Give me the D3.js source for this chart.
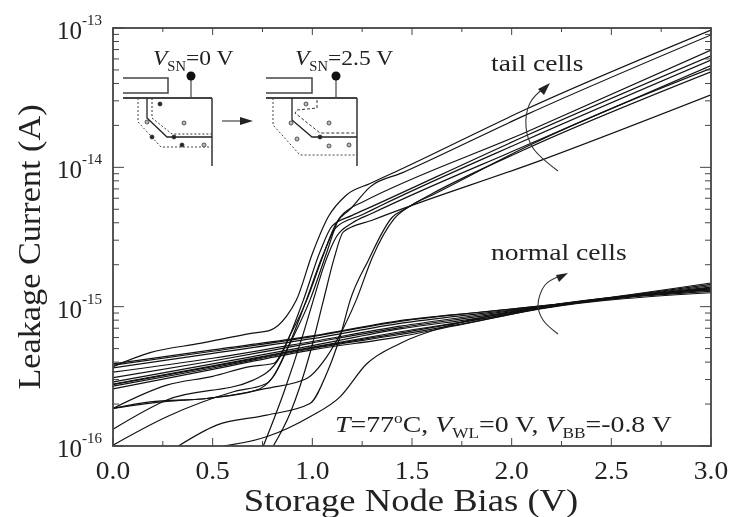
<!DOCTYPE html>
<html><head><meta charset="utf-8">
<script src="https://cdn.jsdelivr.net/npm/d3@7"></script>
<style>
html,body{margin:0;padding:0;background:#fff}
svg{display:block;filter:blur(0.5px)}
text{font-family:"Liberation Serif","Times New Roman",serif;fill:#222}
</style></head><body>
<svg id="c" width="729" height="517"></svg>
<script>
// log10(current) values
const normalV = [0, 0.5, 1.0, 1.44, 1.84, 2.15, 3.0];
const normalLog = [
 [-15.41,-15.31,-15.21,-15.10,-15.04,-14.995,-14.83],
 [-15.42,-15.32,-15.215,-15.105,-15.04,-14.995,-14.84],
 [-15.44,-15.335,-15.23,-15.12,-15.05,-15.0,-14.85],
 [-15.47,-15.37,-15.25,-15.14,-15.06,-15.0,-14.86],
 [-15.51,-15.39,-15.26,-15.15,-15.07,-15.005,-14.865],
 [-15.54,-15.41,-15.28,-15.16,-15.08,-15.005,-14.87],
 [-15.555,-15.425,-15.29,-15.18,-15.09,-15.01,-14.875],
 [-15.56,-15.43,-15.295,-15.19,-15.09,-15.01,-14.88],
 [-15.57,-15.44,-15.30,-15.20,-15.10,-15.01,-14.89],
 [-15.59,-15.45,-15.31,-15.215,-15.10,-15.015,-14.90]
];
const tailCurves = [
 [[0,-15.43],[0.186,-15.33],[0.436,-15.264],[0.70,-15.19],[0.79,-15.168],[0.87,-15.07],[0.92,-14.953],[1.0,-14.62],[1.08,-14.355],[1.17,-14.2],[1.29,-14.116],[1.45,-14.01],[2.077,-13.58],[3,-13.015]],
 [[0,-15.73],[0.27,-15.563],[0.5,-15.5],[0.687,-15.43],[0.804,-15.408],[0.89,-15.2],[0.972,-14.953],[1.05,-14.65],[1.12,-14.4],[1.19,-14.30],[1.29,-14.14],[1.45,-14.04],[2.077,-13.62],[3,-13.05]],
 [[0,-15.73],[0.186,-15.683],[0.47,-15.659],[0.72,-15.599],[0.804,-15.503],[0.888,-15.264],[0.988,-14.953],[1.07,-14.62],[1.13,-14.38],[1.19,-14.295],[1.25,-14.25],[2.077,-13.745],[3,-13.158]],
 [[0,-15.88],[0.27,-15.67],[0.704,-15.527],[0.838,-15.36],[0.955,-14.953],[1.04,-14.6],[1.10,-14.42],[1.2,-14.345],[1.3,-14.28],[2.077,-13.77],[3,-13.2]],
 [[0,-15.994],[0.27,-15.79],[0.604,-15.611],[0.77,-15.551],[0.871,-15.312],[0.97,-14.953],[1.05,-14.64],[1.12,-14.43],[1.25,-14.34],[1.35,-14.27],[2.077,-13.80],[3,-13.23]],
 [[0.328,-16],[0.52,-15.85],[0.77,-15.779],[0.988,-15.695],[1.072,-15.48],[1.139,-15.216],[1.19,-14.953],[1.28,-14.67],[1.40,-14.36],[1.47,-14.295],[1.6,-14.19],[2.077,-13.865],[3,-13.315]],
 [[0,-15.73],[0.27,-15.68],[0.47,-15.659],[0.77,-15.587],[0.972,-15.515],[1.072,-15.36],[1.139,-15.2],[1.22,-14.953],[1.3,-14.65],[1.41,-14.37],[1.5,-14.27],[1.6,-14.2],[2.077,-13.85],[3,-13.29]],
 [[0.754,-16],[0.855,-15.623],[0.955,-15.192],[1.005,-14.953],[1.06,-14.7],[1.12,-14.5],[1.2,-14.40],[1.3,-14.33],[2.077,-13.84],[3,-13.27]],
 [[0.804,-16],[0.888,-15.767],[0.988,-15.336],[1.056,-14.953],[1.11,-14.65],[1.156,-14.463],[1.3,-14.38],[2.15,-13.948],[3,-13.48]],
 [[0.554,-16],[0.77,-15.934],[0.988,-15.79],[1.139,-15.647],[1.273,-15.41],[1.44,-15.264],[1.7,-15.13],[2.15,-15.0],[3,-14.88]]
];
const xTicks = [0,0.5,1,1.5,2,2.5,3];
const xMinor = [0.25,0.75,1.25,1.75,2.25,2.75];
const yDecades = [-16,-15,-14,-13];

const svg = d3.select("#c");
const x = d3.scaleLinear().domain([0,3]).range([113,711]);
const y = d3.scaleLog().domain([1e-16,1e-13]).range([446,28]);
const line = d3.line().x(d=>x(d[0])).y(d=>y(Math.pow(10,d[1]))).curve(d3.curveMonotoneX);

svg.append("defs").append("clipPath").attr("id","pl").append("rect")
  .attr("x",113).attr("y",28).attr("width",598).attr("height",418);
const curves = svg.append("g").attr("clip-path","url(#pl)").attr("fill","none").attr("stroke","#111").attr("stroke-width",1.2);
normalLog.forEach(s=>curves.append("path").attr("d",line(s.map((v,i)=>[normalV[i],v]))));
tailCurves.forEach(s=>curves.append("path").attr("d",line(s)));

// frame + ticks
const axes = svg.append("g").attr("stroke","#444").attr("fill","none");
axes.append("rect").attr("x",113).attr("y",28).attr("width",598).attr("height",418).attr("stroke-width",1.8);
xTicks.forEach(v=>{
  axes.append("line").attr("x1",x(v)).attr("x2",x(v)).attr("y1",446).attr("y2",438);
  axes.append("line").attr("x1",x(v)).attr("x2",x(v)).attr("y1",28).attr("y2",35);
});
xMinor.forEach(v=>{
  axes.append("line").attr("x1",x(v)).attr("x2",x(v)).attr("y1",446).attr("y2",441);
  axes.append("line").attr("x1",x(v)).attr("x2",x(v)).attr("y1",28).attr("y2",32);
});
y.ticks().forEach(t=>{
  const major = Math.abs(Math.log10(t)-Math.round(Math.log10(t)))<1e-6;
  const l = major?11:6;
  axes.append("line").attr("x1",113).attr("x2",113+l).attr("y1",y(t)).attr("y2",y(t));
  axes.append("line").attr("x1",711).attr("x2",711-l).attr("y1",y(t)).attr("y2",y(t));
});

// the reference's glyphs are stretched horizontally
const wide=(px,py,sx)=>`translate(${px},${py}) scale(${sx},1)`;

// tick labels
xTicks.forEach(v=>svg.append("text").attr("transform",wide(x(v),479,1.1)).attr("text-anchor","middle").attr("font-size",25).text(v.toFixed(1)));
yDecades.forEach(d=>{
  const py=y(Math.pow(10,d));
  const t=svg.append("text").attr("x",102).attr("y",py+11).attr("text-anchor","end").attr("font-size",25);
  t.append("tspan").text("10");
  t.append("tspan").attr("dy",-14).attr("font-size",15).text(d);
});
svg.append("text").attr("transform",wide(411,511,1.144)).attr("text-anchor","middle").attr("font-size",32).text("Storage Node Bias (V)");
svg.append("text").attr("transform","translate(40,247) rotate(-90) scale(1.07,1)").attr("text-anchor","middle").attr("font-size",32).text("Leakage Current (A)");

// annotations
svg.append("text").attr("transform",wide(491,71,1.146)).attr("font-size",24).text("tail cells");
svg.append("text").attr("transform",wide(491,260,1.15)).attr("font-size",24).text("normal cells");
const arc=d3.line().curve(d3.curveCatmullRom);
const anno=svg.append("g").attr("fill","none").attr("stroke","#333").attr("stroke-width",1.1);
anno.append("path").attr("d",arc([[558,171],[533,148],[526,127],[530,103],[546,86]]));
anno.append("path").attr("d",arc([[558,334],[543,320],[538,305],[545,285],[562,275]]));
svg.append("path").attr("d","M550,83L538,89L544,95Z").attr("fill","#222");
svg.append("path").attr("d","M568,273L556,275L559,282Z").attr("fill","#222");

// condition label
function rich(xp,yp,parts,size,sx){
  const t=svg.append("text").attr("transform",wide(xp,yp,sx)).attr("font-size",size);
  parts.forEach(p=>{
    const s=t.append("tspan").text(p[0]);
    if(p[1]==="i") s.attr("font-style","italic");
    if(p[1]==="sub") {s.attr("font-size",size*0.62).attr("dy",6);}
    if(p[1]==="after") {s.attr("dy",-6);}
    if(p[1]==="sup") {s.attr("font-size",size*0.62).attr("dy",-9);}
    if(p[1]==="aftersup") {s.attr("dy",9);}
  });
}
rich(335,432,[["T","i"],["=77"],["o","sup"],["C, ","aftersup"],["V","i"],["WL","sub"],["=0 V, ","after"],["V","i"],["BB","sub"],["=-0.8 V","after"]],24,1.16);
rich(153,65,[["V","i"],["SN","sub"],["=0 V","after"]],22,1.07);
rich(295,65,[["V","i"],["SN","sub"],["=2.5 V","after"]],22,1.07);

// inset schematics
const path=d3.line();
const ins=svg.append("g").attr("fill","none");
function device(ox,gateW,surfW,solid,inner,outer,dots,innerDash){
  const g=ins.append("g");
  g.append("path").attr("d",path([[ox,78],[ox+gateW,78],[ox+gateW,93],[ox,93]])).attr("stroke","#444").attr("stroke-width",1.5);
  g.append("line").attr("x1",ox).attr("x2",ox+surfW).attr("y1",98).attr("y2",98).attr("stroke","#444").attr("stroke-width",2);
  g.append("line").attr("x1",ox+surfW).attr("x2",ox+surfW).attr("y1",98).attr("y2",166).attr("stroke","#333").attr("stroke-width",1.5);
  const cx=ox+surfW-21;
  g.append("line").attr("x1",cx).attr("x2",cx).attr("y1",76).attr("y2",98).attr("stroke","#444").attr("stroke-width",1.2);
  g.append("circle").attr("cx",cx).attr("cy",76).attr("r",4.5).attr("fill","#111");
  g.append("path").attr("d",path(solid)).attr("stroke","#222").attr("stroke-width",1.3);
  g.append("path").attr("d",path(inner)).attr("stroke","#333").attr("stroke-width",1).attr("stroke-dasharray",innerDash);
  g.append("path").attr("d",path(outer)).attr("stroke","#444").attr("stroke-width",1).attr("stroke-dasharray","2,2");
  dots.forEach(d=>g.append("circle").attr("cx",d[0]).attr("cy",d[1]).attr("r",2).attr("fill",d[2]?"#222":"#bbb").attr("stroke","#333").attr("stroke-width",0.8));
}
device(123,45,89,
 [[147,98],[147,118],[167,137],[212,137]],
 [[152,98],[152,118],[172,134],[212,134]],
 [[138,98],[138,122],[161,147],[212,147]],
 [[160,104,1],[184,123,0],[147,122,0],[152,137,1],[174,137,1],[182,145,1],[204,145,0]],"2,2");
device(266,46,91,
 [[292,98],[292,120],[312,137],[357,137]],
 [[317,100],[317,108],[297,110],[295,113],[320,133],[357,133]],
 [[273,98],[273,125],[300,155],[357,155]],
 [[306,104,0],[291,123,0],[297,139,0],[320,137,1],[329,123,0],[329,146,0],[349,145,0]],"3,2");
anno.append("line").attr("x1",222).attr("x2",245).attr("y1",121).attr("y2",121);
svg.append("path").attr("d","M253,121L240,117L240,125Z").attr("fill","#222");
</script>
</body></html>
